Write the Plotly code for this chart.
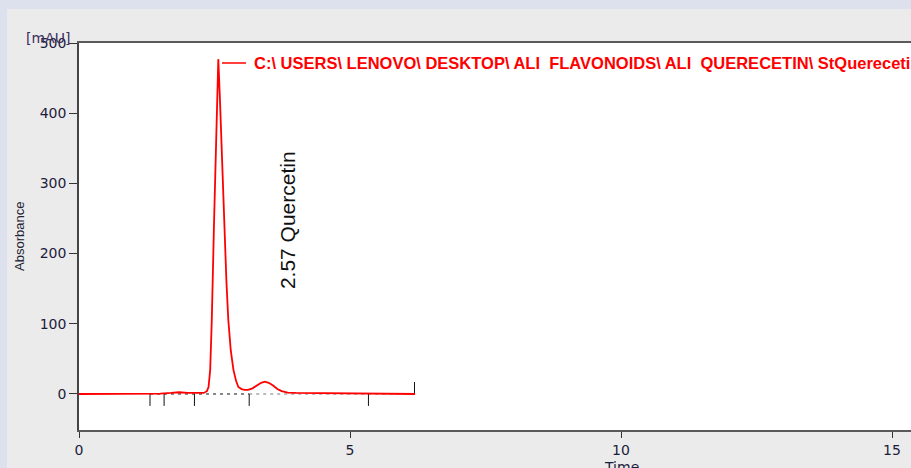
import plotly.graph_objects as go

# ---- data ----
time_min = [0, 1.2, 1.5, 1.7, 1.85, 2.0, 2.2, 2.30, 2.36, 2.39, 2.42, 2.45, 2.49,
            2.53, 2.55, 2.57, 2.60, 2.63, 2.675, 2.72, 2.755, 2.80, 2.85, 2.90, 2.94,
            3.00, 3.06, 3.12, 3.20, 3.28, 3.36, 3.43, 3.50, 3.58, 3.66, 3.74, 3.85,
            4.0, 4.5, 5.0, 5.5, 6.2]
absorbance = [0, 0, 0.5, 1.5, 2.5, 1.5, 1, 1.5, 4, 10, 34, 105, 240,
              350, 430, 477, 420, 347, 248, 160, 105, 62, 34, 18, 10,
              7, 6, 6, 8, 12, 16, 17.5, 16, 12, 7, 4, 2,
              1.5, 1, 0.5, 0.3, 0]

integration_marks = [1.31, 1.57, 2.13, 3.14, 5.34]   # peak start/end markers
run_end = 6.19
mark_depth = 17

peak_label = "2.57 Quercetin"
peak_label_pos = (3.86, 248)
trace_name = "C:\\ USERS\\ LENOVO\\ DESKTOP\\ ALI  FLAVONOIDS\\ ALI  QUERECETIN\\ StQuerecetin"

x_ticks = [0, 5, 10, 15]
y_ticks = [0, 100, 200, 300, 400, 500]
x_range = [0, 15.35]
y_range = [-51.3, 500]

fig = go.Figure()

# integration baseline
fig.add_trace(go.Scatter(x=[integration_marks[0], integration_marks[3]], y=[0, 0], mode="lines",
                         line=dict(color="#111111", width=1, dash="3px,4px"),
                         showlegend=False, hoverinfo="skip"))
fig.add_trace(go.Scatter(x=[integration_marks[3], run_end], y=[0, 0], mode="lines",
                         line=dict(color="#777777", width=1, dash="3px,4px"),
                         showlegend=False, hoverinfo="skip"))
mx, my = [], []
for t in integration_marks:
    mx += [t, t, None]
    my += [0, -mark_depth, None]
mx += [run_end, run_end, None]
my += [0, mark_depth, None]
fig.add_trace(go.Scatter(x=mx, y=my, mode="lines", line=dict(color="#111111", width=1),
                         showlegend=False, hoverinfo="skip"))

# chromatogram
fig.add_trace(go.Scatter(x=time_min, y=absorbance, mode="lines", name=trace_name,
                         line=dict(color="#ff0000", width=1.8), showlegend=False))

fig.add_annotation(x=peak_label_pos[0], y=peak_label_pos[1], text=peak_label, textangle=-90,
                   showarrow=False, font=dict(family="Liberation Sans", size=21, color="#111111"))

def px_x(p):
    return (p - 79) / 832

def px_y(p):
    return (430 - p) / 387

# trace label (legend-like line + file path)
fig.add_shape(type="line", xref="paper", yref="paper", x0=px_x(222), x1=px_x(246),
              y0=px_y(63), y1=px_y(63), line=dict(color="#ff0000", width=1.5))
fig.add_annotation(xref="paper", yref="paper", x=px_x(252), y=px_y(63), text=trace_name,
                   xanchor="left", yanchor="middle", showarrow=False,
                   font=dict(family="Liberation Sans", size=16.5, color="#ff0000", weight="bold"))

fig.add_annotation(xref="paper", yref="paper", x=px_x(24), y=px_y(38), text="[mAU]",
                   xanchor="left", yanchor="middle", showarrow=False,
                   font=dict(family="DejaVu Sans", size=14, color="#3e2f5c"))
fig.add_annotation(xref="paper", yref="paper", x=px_x(20), y=px_y(237), text="Absorbance",
                   textangle=-90, xanchor="center", yanchor="middle", showarrow=False,
                   font=dict(family="Liberation Sans", size=13, color="#222233"))
fig.add_annotation(xref="paper", yref="paper", x=px_x(621), y=px_y(457), text="Time",
                   xanchor="center", yanchor="top", showarrow=False,
                   font=dict(family="DejaVu Sans", size=14, color="#1c1c3c"))

# background panels
fig.add_shape(type="rect", xref="paper", yref="paper", x0=px_x(7), x1=px_x(930),
              y0=px_y(480), y1=px_y(9), fillcolor="#ebebeb", line_width=0, layer="below")
fig.add_shape(type="rect", xref="paper", yref="paper", x0=0, x1=1, y0=0, y1=1,
              fillcolor="#ffffff", line_width=0, layer="below")

tickfont = dict(family="DejaVu Sans", size=14, color="#1c1c3c")
fig.update_layout(
    width=911, height=468,
    margin=dict(l=79, r=0, t=43, b=38),
    paper_bgcolor="#dde1ee", plot_bgcolor="#ffffff",
    showlegend=False,
    xaxis=dict(range=x_range, tickvals=x_ticks, showgrid=False, zeroline=False,
               showline=True, linecolor="#5a5a5a", linewidth=2, mirror=True,
               ticks="outside", ticklen=6, tickcolor="#333333", tickfont=tickfont),
    yaxis=dict(range=y_range, tickvals=y_ticks, showgrid=False, zeroline=False,
               showline=True, linecolor="#444444", linewidth=1.5,
               ticks="outside", ticklen=8, tickcolor="#333333", tickfont=tickfont),
)

fig.write_html("out.html")
